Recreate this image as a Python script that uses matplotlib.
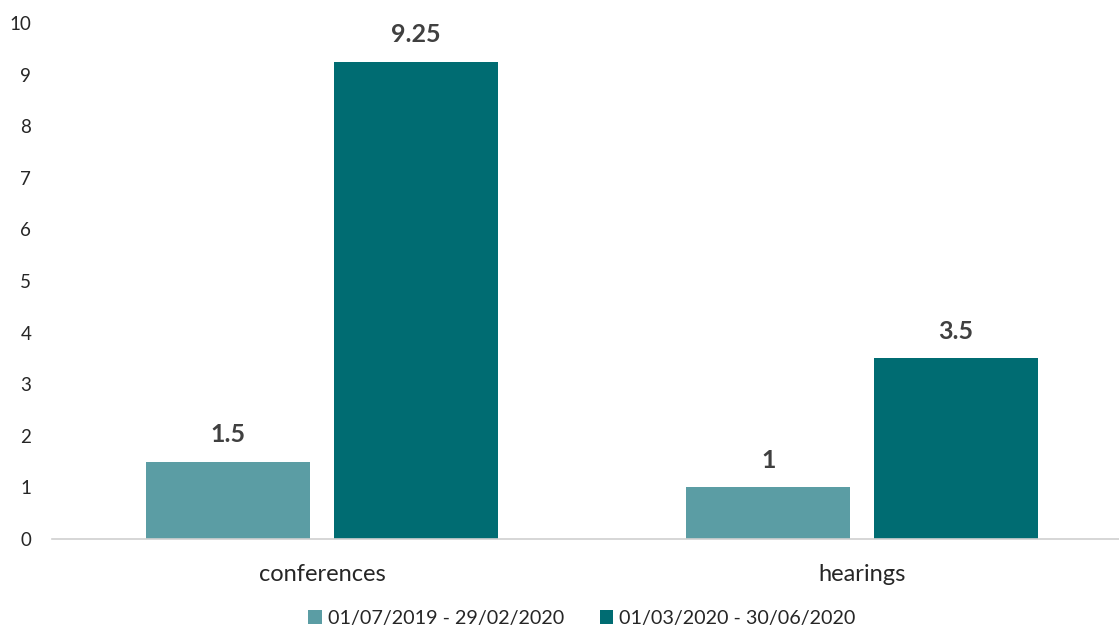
import numpy as np
from matplotlib import pyplot as plt

categories = ["conferences", "hearings"]
series_names = ["01/07/2019 - 29/02/2020", "01/03/2020 - 30/06/2020"]
before = [1.5, 1]
during = [9.25, 3.5]
colors = ["#5B9DA4", "#006C72"]

plt.rcParams['font.family'] = ['Lato', 'DejaVu Sans']

fig = plt.figure(figsize=(11.19, 6.32), dpi=100)
ax = fig.add_axes([52/1119, 93/632, 1 - 52/1119, 516/632])

x = np.arange(len(categories))
w = 0.304
off = 0.1735
b1 = ax.bar(x - off, before, w, color=colors[0], label=series_names[0])
b2 = ax.bar(x + off, during, w, color=colors[1], label=series_names[1])

# value labels over each bar
for bars, vals in ((b1, before), (b2, during)):
    for r, v in zip(bars, vals):
        ax.text(r.get_x() + r.get_width() / 2, v + 0.3, f"{v:g}",
                ha="center", va="bottom", fontsize=18, fontweight="bold", color="#404040")

ax.set_xlim(-0.5, 1.476)
ax.set_ylim(0, 10)
ax.set_yticks(range(0, 11))
ax.set_xticks(x)
ax.set_xticklabels(categories)
ax.tick_params(axis="y", length=0, labelsize=13.5, pad=15, labelcolor="#262626")
ax.tick_params(axis="x", length=0, labelsize=17, pad=18, labelcolor="#262626")
for s in ["top", "right", "left"]:
    ax.spines[s].set_visible(False)
ax.spines["bottom"].set_color("#D0D0D0")
ax.spines["bottom"].set_linewidth(1.2)

fig.legend(loc="lower center", bbox_to_anchor=(0.52, -0.02), ncol=2, frameon=False,
           fontsize=14.2, handlelength=0.7, handleheight=0.7, handletextpad=0.3,
           columnspacing=1.8, labelcolor="#262626")

plt.savefig("out.png")
